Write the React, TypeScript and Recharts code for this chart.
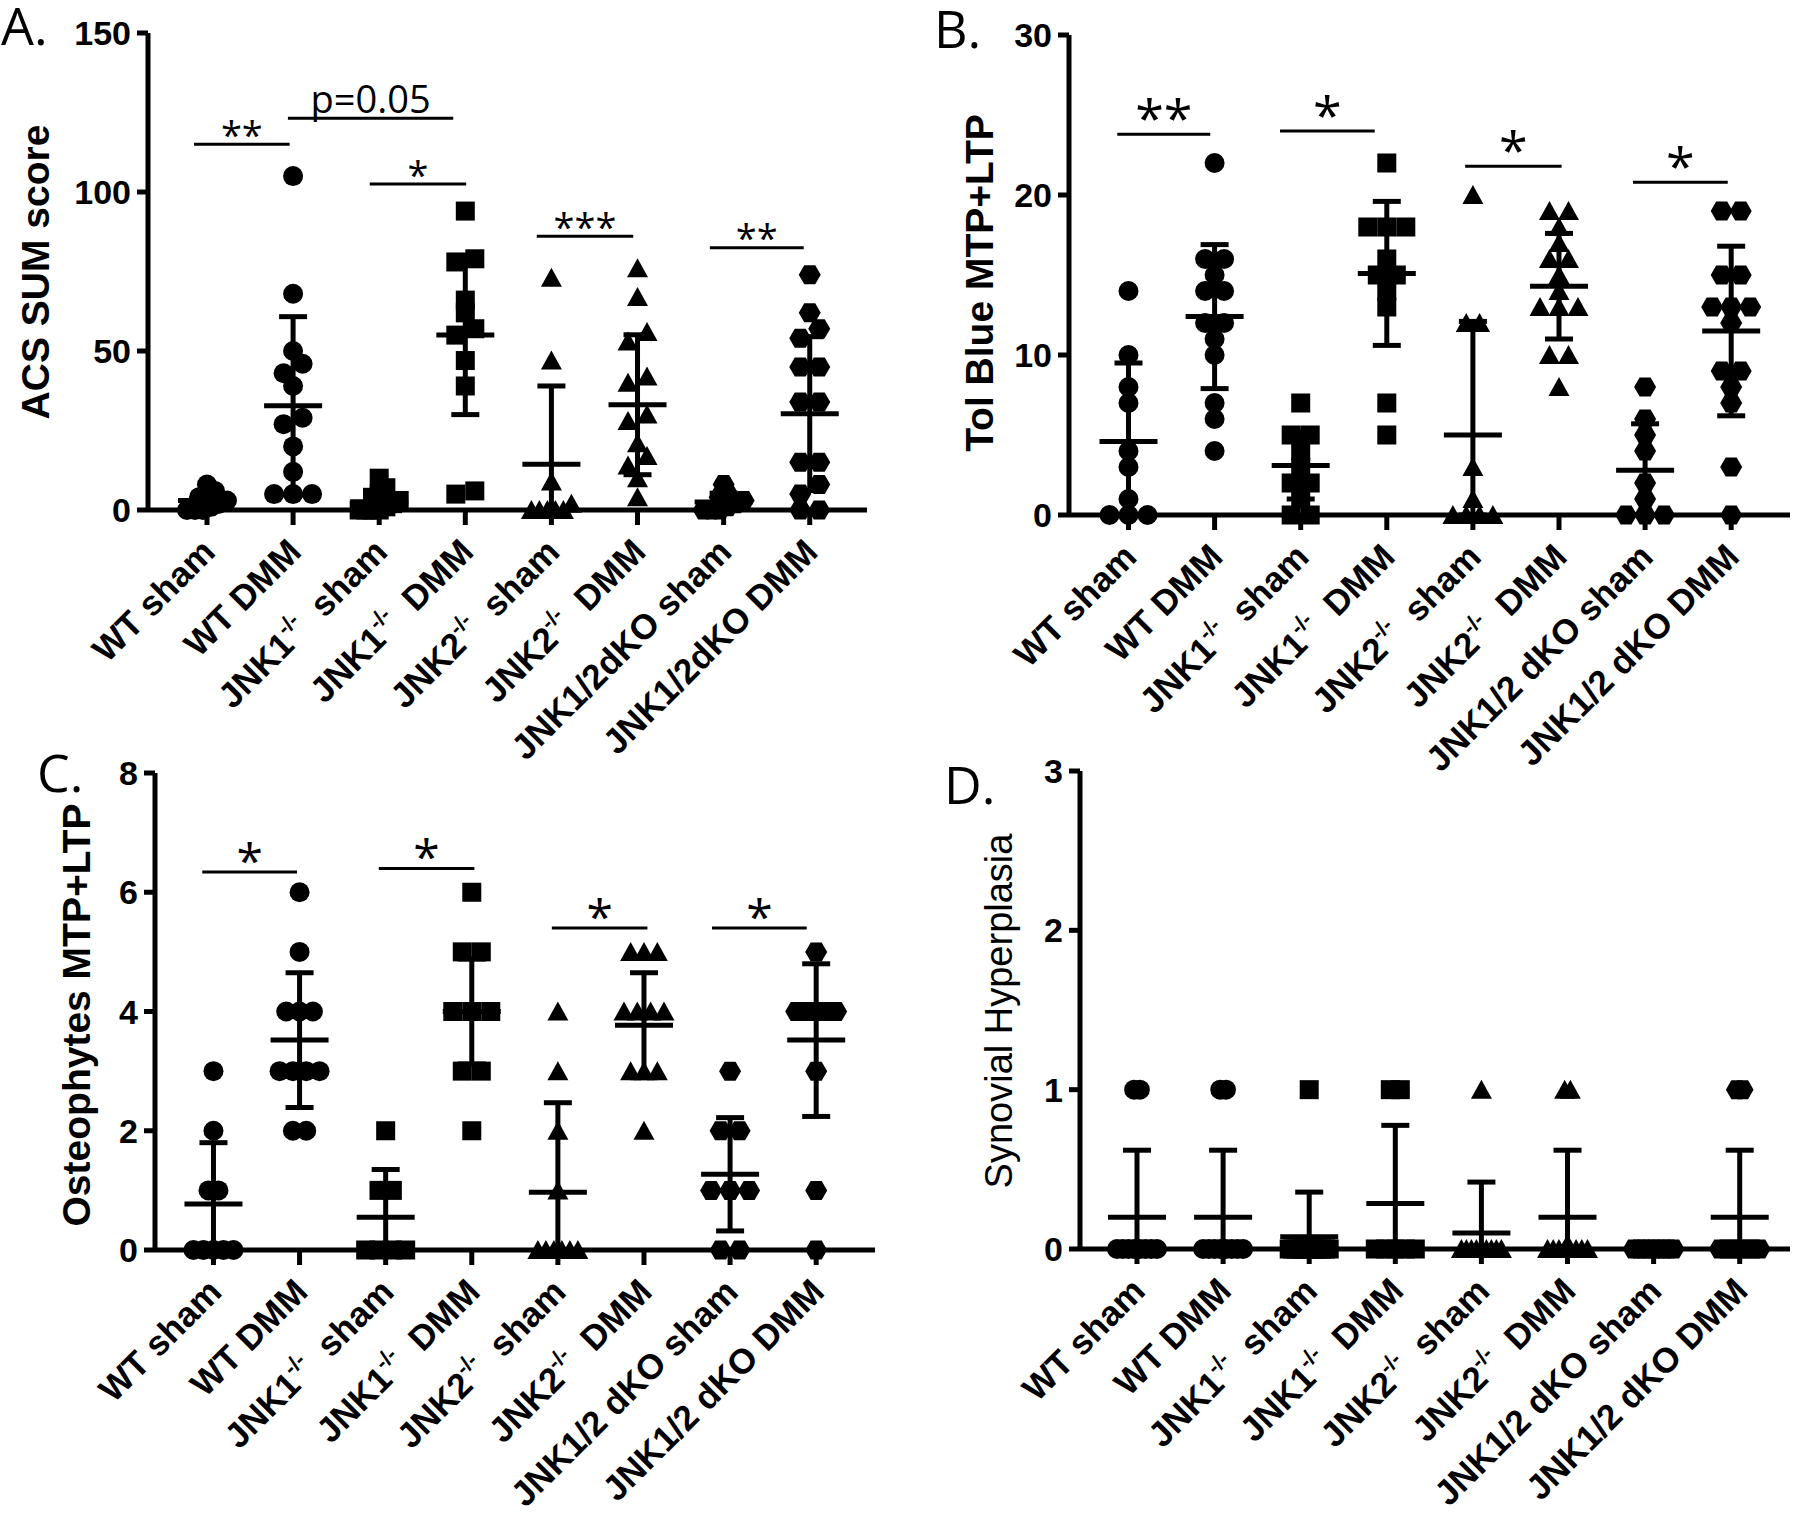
import React from 'react';
import { ScatterChart, Scatter, XAxis, YAxis, ErrorBar, ReferenceLine } from 'recharts';

// x axis group names: [text, superscript, text after]
const namesA = [
  ['WT sham', '', ''],
  ['WT DMM', '', ''],
  ['JNK1', '-/-', '\u00a0 sham'],
  ['JNK1', '-/-', '\u00a0 DMM'],
  ['JNK2', '-/-', '\u00a0 sham'],
  ['JNK2', '-/-', '\u00a0 DMM'],
  ['JNK1/2dKO sham', '', ''],
  ['JNK1/2dKO DMM', '', ''],
];
const namesBCD = [
  ['WT sham', '', ''],
  ['WT DMM', '', ''],
  ['JNK1', '-/-', '\u00a0 sham'],
  ['JNK1', '-/-', '\u00a0 DMM'],
  ['JNK2', '-/-', '\u00a0 sham'],
  ['JNK2', '-/-', '\u00a0 DMM'],
  ['JNK1/2 dKO sham', '', ''],
  ['JNK1/2 dKO DMM', '', ''],
];

// A. ACS SUM score
const acsValues = [
  [8, 6, 5, 4, 3, 2, 1, 0, 0, 0],
  [105, 68, 50, 46, 43, 39, 29, 27, 20, 12, 5, 5, 5],
  [10, 7, 5, 4, 3, 2, 1, 0, 0, 0, 0],
  [94, 79, 78, 66, 62, 57, 55, 47, 39, 6, 5],
  [73, 47, 9, 2, 0, 0, 0, 0, 0],
  [76, 67, 56, 53, 42, 40, 30, 28, 21, 17, 14, 10, 4],
  [8, 5, 4, 3, 2, 1, 0, 0, 0],
  [74, 62, 57, 54, 45, 45, 34, 34, 15, 15, 8, 5, 0, 0],
];
const acsMean = [3, 32.8, 2.6, 55, 14.4, 33.1, 2.5, 30.3];
const acsSd = [2.8, 28, 3.2, 25, 24.6, 22, 2.8, 24.2];
const acsSigFrom = [-0.15, 0.94, 1.89, 3.83, 5.84];
const acsSigTo = [0.96, 2.86, 3.01, 4.95, 6.93];
const acsSigY = [115, 123.2, 102.5, 86.1, 82.5];
const acsSigText = ['**', 'p=0.05', '*', '***', '**'];

// B. Tol Blue MTP+LTP
const tolValues = [
  [14, 10, 8, 7, 4, 3, 1, 0, 0, 0],
  [22, 16, 16, 15, 14, 14, 12, 12, 11, 10, 7, 6, 4],
  [7, 5, 5, 4, 3, 2, 2, 1, 0, 0],
  [22, 18, 18, 18, 16, 15, 15, 14, 13, 7, 5],
  [20, 12, 12, 3, 1, 0, 0, 0, 0],
  [19, 19, 18, 17, 16, 16, 15, 14, 13, 13, 13, 10, 10, 8],
  [8, 6, 5, 4, 2, 1, 0, 0, 0],
  [19, 19, 15, 15, 13, 13, 13, 12, 9, 9, 8, 7, 3, 0],
];
const tolMean = [4.6, 12.4, 3.1, 15.1, 5.0, 14.3, 2.8, 11.5];
const tolSd = [4.9, 4.5, 2.1, 4.5, 7.1, 3.3, 2.9, 5.3];
const tolSigFrom = [-0.13, 1.76, 3.91, 5.86];
const tolSigTo = [0.95, 2.86, 5.03, 6.96];
const tolSigY = [23.8, 24.0, 21.8, 20.8];
const tolSigText = ['**', '*', '*', '*'];

// C. Osteophytes MTP+LTP
const ostValues = [
  [3, 2, 1, 1, 0, 0, 0, 0, 0],
  [6, 5, 4, 4, 4, 3, 3, 3, 3, 2, 2],
  [2, 1, 1, 0, 0, 0, 0],
  [6, 5, 5, 4, 4, 4, 3, 3, 2],
  [4, 3, 2, 1, 0, 0, 0, 0, 0, 0],
  [5, 5, 5, 4, 4, 4, 4, 3, 3, 3, 2],
  [3, 2, 2, 1, 1, 1, 0, 0],
  [5, 4, 4, 4, 4, 4, 4, 3, 1, 0],
];
const ostMean = [0.77, 3.52, 0.55, 4.0, 0.97, 3.77, 1.27, 3.52];
const ostSd = [1.03, 1.13, 0.8, 0.88, 1.5, 0.88, 0.95, 1.28];
const ostSigFrom = [-0.13, 1.92, 3.93, 5.79];
const ostSigTo = [0.97, 3.03, 5.04, 6.89];
const ostSigY = [6.34, 6.4, 5.4, 5.4];
const ostSigText = ['*', '*', '*', '*'];

// D. Synovial Hyperplasia
const synValues = [
  [1, 1, 0, 0, 0, 0, 0, 0, 0, 0],
  [1, 1, 0, 0, 0, 0, 0, 0, 0, 0],
  [1, 0, 0, 0, 0, 0, 0, 0, 0, 0, 0, 0, 0],
  [1, 1, 0, 0, 0, 0, 0],
  [1, 0, 0, 0, 0, 0, 0, 0, 0, 0],
  [1, 1, 0, 0, 0, 0, 0, 0, 0, 0],
  [0, 0, 0, 0, 0, 0, 0, 0, 0],
  [1, 1, 0, 0, 0, 0, 0, 0, 0, 0],
];
const synMean = [0.2, 0.2, 0.077, 0.286, 0.1, 0.2, 0, 0.2];
const synSd = [0.42, 0.42, 0.28, 0.49, 0.32, 0.42, 0, 0.42];

const ARIAL = "'Liberation Sans', Arial, sans-serif";
const LIGHT = "'Open Sans', 'Noto Sans', sans-serif";

// spread points that sit at nearly the same height side by side;
// the busiest row of a group sets the spacing for the whole group
function swarm(vals: number[], pxPerUnit: number, catPx: number) {
  const order = vals.map((_, i) => i).sort((a, b) => vals[a] - vals[b]);
  const rows: number[][] = [];
  order.forEach((i) => {
    const row = rows[rows.length - 1];
    if (row && (vals[i] - vals[row[0]]) * pxPerUnit <= 12) row.push(i);
    else rows.push([i]);
  });
  const maxN = Math.max(...rows.map((r) => r.length));
  const gap = maxN > 1 ? Math.min(19, 40 / (maxN - 1)) : 0;
  const offs = new Array(vals.length).fill(0);
  rows.forEach((row) => {
    const n = row.length;
    row.forEach((idx, k) => {
      offs[idx] = ((k - (n - 1) / 2) * gap) / catPx;
    });
  });
  return offs;
}

const Marker = (p: any) => {
  const { cx, cy, payload } = p;
  const kind = Math.floor(payload.g / 2);
  if (kind === 0) return <circle cx={cx} cy={cy} r={10} fill="#000" />;
  if (kind === 1) return <rect x={cx - 9.5} y={cy - 9.5} width={19} height={19} fill="#000" />;
  if (kind === 2)
    return <polygon points={`${cx},${cy - 10} ${cx + 10.5},${cy + 9} ${cx - 10.5},${cy + 9}`} fill="#000" />;
  return (
    <polygon
      points={`${cx - 11},${cy} ${cx - 5.5},${cy - 9.5} ${cx + 5.5},${cy - 9.5} ${cx + 11},${cy} ${cx + 5.5},${cy + 9.5} ${cx - 5.5},${cy + 9.5}`}
      fill="#000"
    />
  );
};

const MeanLine = (p: any) => (
  <line x1={p.cx - 29} x2={p.cx + 29} y1={p.cy} y2={p.cy} stroke="#000" strokeWidth={5} />
);

const SigText = (p: any) => {
  const { cx, cy, payload } = p;
  const stars = payload.text.startsWith('*');
  return (
    <text
      x={cx}
      y={stars ? cy + payload.size * 0.12 - payload.lift : cy - 5}
      textAnchor="middle"
      fontSize={stars ? payload.size : 38}
      fontFamily={LIGHT}
      fill="#000"
    >
      {payload.text}
    </text>
  );
};

const XTick = (p: any) => {
  const { x, y, payload, names } = p;
  const [a, sup, b] = names[Math.round(payload.value)];
  return (
    <g transform={`translate(${x + 10},${y + 27})`}>
      <text transform="rotate(-45)" textAnchor="end" fontSize={35} fontWeight={700} fontFamily={ARIAL} fill="#000">
        {a}
        {sup ? (
          <tspan fontSize={22} dy={-15}>
            {sup}
          </tspan>
        ) : null}
        {sup ? <tspan dy={15}>{b}</tspan> : null}
      </text>
    </g>
  );
};

type Box = {
  left: number;
  top: number;
  width: number;
  height: number;
  axisLeft: number;
  plotTop: number;
  plotBottom: number;
  plotRight: number;
  xDomain: [number, number];
  yMax: number;
  yTicks: number[];
};

function Panel({
  box,
  values,
  means,
  sds,
  names,
  sigFrom = [],
  sigTo = [],
  sigY = [],
  sigText = [],
  starSize = 40,
  starLift = 0,
}: {
  box: Box;
  values: number[][];
  means: number[];
  sds: number[];
  names: string[][];
  sigFrom?: number[];
  sigTo?: number[];
  sigY?: number[];
  sigText?: string[];
  starSize?: number;
  starLift?: number;
}) {
  const pxPerUnit = (box.plotBottom - box.plotTop) / box.yMax;
  const catPx = (box.plotRight - box.axisLeft) / (box.xDomain[1] - box.xDomain[0]);
  const points = values.flatMap((vals, g) => {
    const offs = swarm(vals, pxPerUnit, catPx);
    return vals.map((v, k) => ({ x: g + offs[k], y: v, g }));
  });
  const summary = means.map((m, g) => ({ x: g, y: m, err: [Math.min(sds[g], m), sds[g]] }));
  const marks = sigText.map((t, i) => ({
    x: (sigFrom[i] + sigTo[i]) / 2,
    y: sigY[i],
    text: t,
    size: starSize,
    lift: starLift,
  }));

  return (
    <div style={{ position: 'absolute', left: box.left, top: box.top }}>
      <ScatterChart
        width={box.width}
        height={box.height}
        margin={{ top: box.plotTop - box.top, right: box.left + box.width - box.plotRight, bottom: 0, left: 0 }}
      >
        <XAxis
          type="number"
          dataKey="x"
          domain={box.xDomain}
          ticks={[0, 1, 2, 3, 4, 5, 6, 7]}
          interval={0}
          height={box.top + box.height - box.plotBottom}
          tickSize={15}
          tickMargin={2}
          stroke="#000"
          axisLine={{ stroke: '#000', strokeWidth: 5 }}
          tickLine={{ stroke: '#000', strokeWidth: 5 }}
          tick={(p: any) => <XTick {...p} names={names} />}
        />
        <YAxis
          type="number"
          dataKey="y"
          domain={[0, box.yMax]}
          ticks={box.yTicks}
          interval={0}
          width={box.axisLeft - box.left}
          tickSize={11}
          tickMargin={6}
          stroke="#000"
          axisLine={{ stroke: '#000', strokeWidth: 5 }}
          tickLine={{ stroke: '#000', strokeWidth: 5 }}
          tick={{ fill: '#000', fontSize: 34, fontWeight: 700, fontFamily: ARIAL }}
        />
        {sigText.map((t, i) => (
          <ReferenceLine
            key={i}
            segment={[
              { x: sigFrom[i], y: sigY[i] },
              { x: sigTo[i], y: sigY[i] },
            ]}
            stroke="#000"
            strokeWidth={3}
          />
        ))}
        <Scatter data={points} shape={Marker} isAnimationActive={false} />
        <Scatter data={summary} shape={MeanLine} isAnimationActive={false}>
          <ErrorBar dataKey="err" direction="y" width={14} stroke="#000" strokeWidth={5} isAnimationActive={false} />
        </Scatter>
        {marks.length ? <Scatter data={marks} shape={SigText} isAnimationActive={false} /> : null}
      </ScatterChart>
    </div>
  );
}

const boxA: Box = {
  left: 0, top: 0, width: 900, height: 800,
  axisLeft: 148, plotTop: 33, plotBottom: 510, plotRight: 867,
  xDomain: [-0.685, 7.665], yMax: 150, yTicks: [0, 50, 100, 150],
};
const boxB: Box = {
  left: 900, top: 0, width: 900, height: 800,
  axisLeft: 1069, plotTop: 35, plotBottom: 515, plotRight: 1790,
  xDomain: [-0.691, 7.683], yMax: 30, yTicks: [0, 10, 20, 30],
};
const boxC: Box = {
  left: 0, top: 740, width: 900, height: 780,
  axisLeft: 155, plotTop: 773, plotBottom: 1250, plotRight: 875,
  xDomain: [-0.679, 7.683], yMax: 8, yTicks: [0, 2, 4, 6, 8],
};
const boxD: Box = {
  left: 900, top: 740, width: 900, height: 780,
  axisLeft: 1080, plotTop: 771, plotBottom: 1249, plotRight: 1790,
  xDomain: [-0.662, 7.584], yMax: 3, yTicks: [0, 1, 2, 3],
};

export default function App() {
  return (
    <div style={{ position: 'absolute', left: 0, top: 0, width: 1800, height: 1520, background: '#fff' }}>
      <Panel box={boxA} values={acsValues} means={acsMean} sds={acsSd} names={namesA}
        sigFrom={acsSigFrom} sigTo={acsSigTo} sigY={acsSigY} sigText={acsSigText} starSize={38} />
      <Panel box={boxB} values={tolValues} means={tolMean} sds={tolSd} names={namesBCD}
        sigFrom={tolSigFrom} sigTo={tolSigTo} sigY={tolSigY} sigText={tolSigText} starSize={52} starLift={3} />
      <Panel box={boxC} values={ostValues} means={ostMean} sds={ostSd} names={namesBCD}
        sigFrom={ostSigFrom} sigTo={ostSigTo} sigY={ostSigY} sigText={ostSigText} starSize={48} />
      <Panel box={boxD} values={synValues} means={synMean} sds={synSd} names={namesBCD} />
      <svg width={1800} height={1520} style={{ position: 'absolute', left: 0, top: 0, pointerEvents: 'none' }}>
        <g fontFamily={LIGHT} fontSize={52} fill="#000">
          <text x={1} y={45}>A.</text>
          <text x={934} y={48}>B.</text>
          <text x={37} y={792}>C.</text>
          <text x={944} y={804}>D.</text>
        </g>
        <g fontFamily={ARIAL} fontSize={39} fill="#000" textAnchor="middle">
          <text transform="translate(49,272) rotate(-90)" fontWeight={700}>ACS SUM score</text>
          <text transform="translate(993,283) rotate(-90)" fontWeight={700}>Tol Blue MTP+LTP</text>
          <text transform="translate(90,1015) rotate(-90)" fontWeight={700}>Osteophytes MTP+LTP</text>
          <text transform="translate(1012,1011) rotate(-90)" fontSize={38}>Synovial Hyperplasia</text>
        </g>
      </svg>
    </div>
  );
}
